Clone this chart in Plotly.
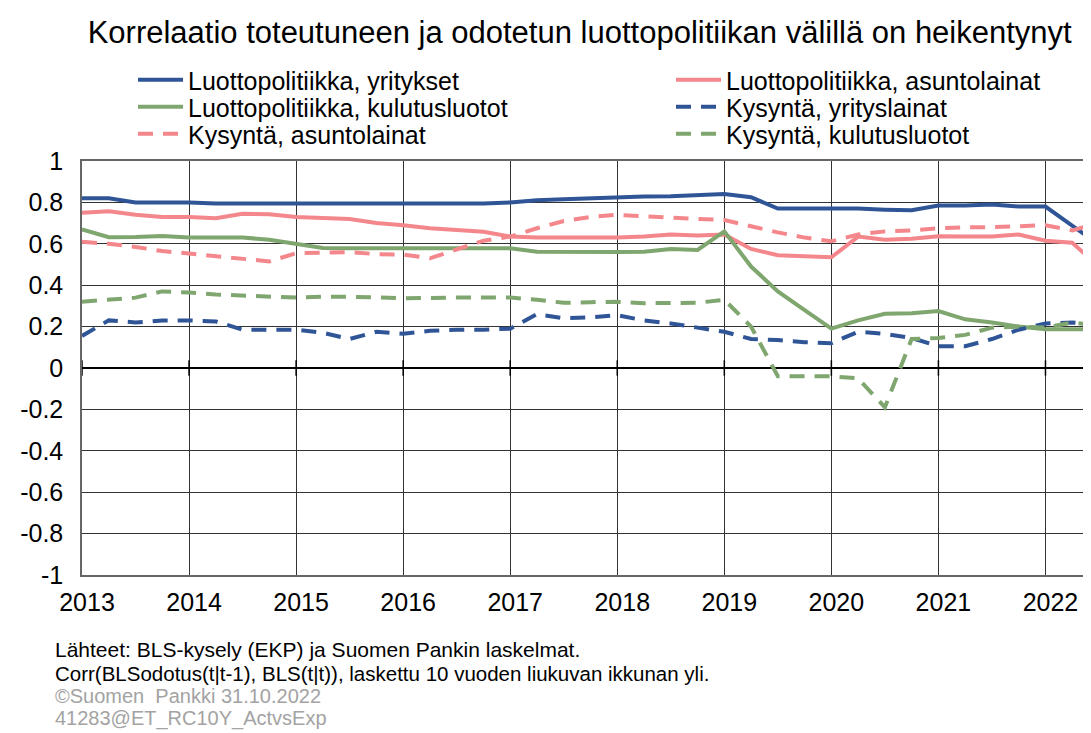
import plotly.graph_objects as go

# Quarterly observation dates (decimal years)
quarters = [2013 + i * 0.25 for i in range(39)]  # 2013Q1 .. 2022Q3

lp_yritykset = [0.82, 0.82, 0.80, 0.80, 0.80, 0.795, 0.795, 0.795,
                0.795, 0.795, 0.795, 0.795, 0.795, 0.795, 0.795, 0.795,
                0.80, 0.81, 0.815, 0.82, 0.826, 0.828, 0.83, 0.833,
                0.84, 0.825, 0.77, 0.77, 0.77, 0.77, 0.765, 0.762,
                0.785, 0.785, 0.79, 0.78, 0.78, 0.69, 0.595]

lp_asunto = [0.75, 0.757, 0.74, 0.73, 0.73, 0.724, 0.745, 0.743,
             0.73, 0.726, 0.72, 0.70, 0.69, 0.675, 0.665, 0.658,
             0.635, 0.63, 0.63, 0.63, 0.63, 0.635, 0.645, 0.64,
             0.645, 0.575, 0.545, 0.54, 0.535, 0.635, 0.62, 0.625,
             0.637, 0.635, 0.635, 0.645, 0.615, 0.605, 0.49]

lp_kulutus = [0.67, 0.632, 0.633, 0.638, 0.63, 0.63, 0.63, 0.62,
              0.60, 0.58, 0.578, 0.578, 0.578, 0.578, 0.578, 0.578,
              0.578, 0.562, 0.56, 0.56, 0.56, 0.562, 0.575, 0.57,
              0.66, 0.49, 0.37, 0.28, 0.19, 0.23, 0.262, 0.265,
              0.275, 0.235, 0.22, 0.20, 0.187, 0.187, 0.187]

ky_yritys = [0.155, 0.23, 0.22, 0.23, 0.23, 0.225, 0.185, 0.183,
             0.185, 0.17, 0.14, 0.175, 0.165, 0.18, 0.185, 0.185,
             0.19, 0.26, 0.24, 0.245, 0.255, 0.23, 0.215, 0.195,
             0.175, 0.14, 0.135, 0.125, 0.12, 0.175, 0.165, 0.145,
             0.105, 0.105, 0.14, 0.185, 0.215, 0.22, 0.21]

ky_asunto = [0.61, 0.60, 0.585, 0.565, 0.553, 0.54, 0.528, 0.515,
             0.555, 0.556, 0.56, 0.55, 0.548, 0.53, 0.57, 0.615,
             0.635, 0.675, 0.71, 0.73, 0.74, 0.735, 0.727, 0.72,
             0.715, 0.685, 0.655, 0.63, 0.612, 0.645, 0.66, 0.665,
             0.675, 0.68, 0.68, 0.685, 0.69, 0.665, 0.70]

ky_kulutus = [0.32, 0.33, 0.34, 0.37, 0.365, 0.355, 0.35, 0.345,
              0.34, 0.345, 0.345, 0.342, 0.337, 0.34, 0.34, 0.34,
              0.34, 0.33, 0.315, 0.318, 0.32, 0.313, 0.312, 0.315,
              0.33, 0.20, -0.04, -0.04, -0.04, -0.05, -0.19, 0.14,
              0.145, 0.16, 0.195, 0.20, 0.195, 0.22, 0.205]

series_names = ["Luottopolitiikka, yritykset", "Luottopolitiikka, asuntolainat",
                "Luottopolitiikka, kulutusluotot", "Kysyntä, yrityslainat",
                "Kysyntä, asuntolainat", "Kysyntä, kulutusluotot"]

year_ticks = list(range(2013, 2023))
year_labels = [str(y) for y in year_ticks]
y_ticks = [1, 0.8, 0.6, 0.4, 0.2, 0, -0.2, -0.4, -0.6, -0.8, -1]
y_labels = ["1", "0.8", "0.6", "0.4", "0.2", "0", "-0.2", "-0.4", "-0.6", "-0.8", "-1"]

title_text = "Korrelaatio toteutuneen ja odotetun luottopolitiikan välillä on heikentynyt"
footer_lines = ["Lähteet: BLS-kysely (EKP) ja Suomen Pankin laskelmat.",
                "Corr(BLSodotus(t|t-1), BLS(t|t)), laskettu 10 vuoden liukuvan ikkunan yli.",
                "©Suomen  Pankki 31.10.2022",
                "41283@ET_RC10Y_ActvsExp"]

BLUE = "#2f5597"
PINK = "#f4878b"
GREEN = "#7fa66e"
DASH = "15px,10px"
FONT = "Liberation Sans, Arial, sans-serif"

W, H = 1091, 733
ML, MR, MT, MB = 74, 0, 153, 166
PW, PH = W - ML - MR, H - MT - MB

series = [lp_yritykset, lp_asunto, lp_kulutus, ky_yritys, ky_asunto, ky_kulutus]
colors = [BLUE, PINK, GREEN, BLUE, PINK, GREEN]
dashes = ["solid", "solid", "solid", DASH, DASH, DASH]
legend_ids = ["legend", "legend2", "legend3", "legend4", "legend5", "legend6"]
# legend grid: two columns, three rows (pixel anchors in the page)
legend_col_x = [125, 663, 125, 663, 125, 663]
legend_row_y = [72, 72, 99, 99, 126, 126]

fig = go.Figure()

# tick marks on the zero line
fig.add_trace(go.Scatter(
    x=year_ticks, y=[0] * len(year_ticks), mode="markers",
    marker=dict(symbol="line-ns", size=11, line=dict(color="black", width=1.5)),
    showlegend=False, hoverinfo="skip"))

for name, vals, col, dash, leg in zip(series_names, series, colors, dashes, legend_ids):
    fig.add_trace(go.Scatter(
        x=quarters, y=vals, mode="lines", name=name,
        line=dict(color=col, width=4, dash=dash),
        legend=leg))

legends = {}
for leg, lx, ly in zip(legend_ids, legend_col_x, legend_row_y):
    legends[leg] = dict(orientation="h", xref="container", yref="container",
                        x=lx / W, y=1 - ly / H, xanchor="left", yanchor="middle",
                        itemwidth=45,
                        font=dict(family=FONT, size=25, color="black"),
                        bgcolor="rgba(0,0,0,0)")

fig.update_layout(
    width=W, height=H,
    paper_bgcolor="white", plot_bgcolor="white",
    margin=dict(l=ML, r=MR, t=MT, b=MB, autoexpand=False),
    font=dict(family=FONT, size=24, color="black"),
    title=dict(text=title_text, x=0.524, xanchor="center", xref="container",
               y=1 - 24 / H, yanchor="middle", yref="container",
               font=dict(family=FONT, size=31, color="black")),
    xaxis=dict(range=[2013, 2022.5], tickvals=year_ticks, ticktext=year_labels,
               showgrid=True, gridcolor="#333333", gridwidth=1,
               showline=True, linecolor="#666666", linewidth=1.5, mirror=True,
               ticks="", ticklabelstandoff=4, ticklabelshift=5,
               tickfont=dict(family=FONT, size=25, color="black"),
               zeroline=False, fixedrange=True),
    yaxis=dict(range=[-1, 1], tickvals=y_ticks, ticktext=y_labels,
               showgrid=True, gridcolor="#333333", gridwidth=1,
               showline=True, linecolor="#666666", linewidth=1.5, mirror=True,
               zeroline=True, zerolinecolor="black", zerolinewidth=2,
               ticks="", ticklabelstandoff=12,
               tickfont=dict(family=FONT, size=25, color="black"),
               fixedrange=True),
    **legends,
)

footer_y = [641, 665, 688, 710]
footer_size = [21, 20.5, 20, 20]
footer_col = ["black", "black", "#a3a3a3", "#a3a3a3"]
for txt, yy, sz, col in zip(footer_lines, footer_y, footer_size, footer_col):
    fig.add_annotation(text=txt, xref="paper", yref="paper",
                       x=(45 - ML) / PW, y=(H - MB - yy) / PH,
                       xanchor="left", yanchor="middle",
                       showarrow=False, font=dict(family=FONT, size=sz, color=col))

fig.write_html("out.html")
